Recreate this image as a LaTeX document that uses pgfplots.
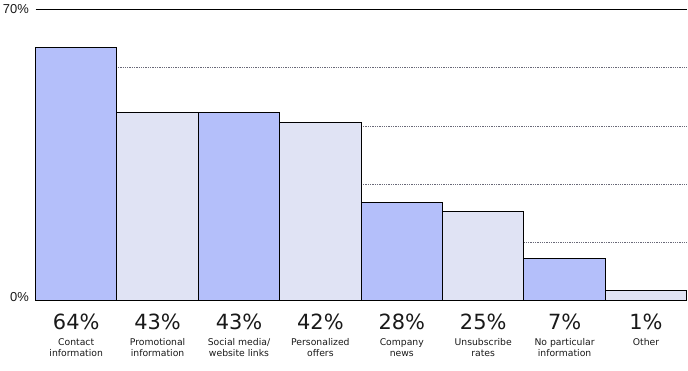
\documentclass[border=0pt]{standalone}
\usepackage{pgfplots}
\pgfplotsset{compat=1.18}
\usepackage{fontspec}
\setmainfont{DejaVu Sans}
\newfontfamily\ylabfont{Liberation Sans}
\definecolor{barblue}{RGB}{180,191,250}
\definecolor{barlight}{RGB}{224,227,244}
\definecolor{gridgray}{RGB}{105,105,120}
\definecolor{txt}{RGB}{25,25,25}
\newcommand{\lab}[2]{{\fontsize{21}{21}\selectfont #1}\\[3.4pt]#2}
\begin{document}
\begin{tikzpicture}
\useasboundingbox (0,0) rectangle (688bp,371bp);
\begin{axis}[
  at={(35.5bp,70.5bp)}, anchor=south west,
  scale only axis, width=651.2bp, height=291bp,
  xmin=0, xmax=8, ymin=0, ymax=70,
  clip=false,
  axis line style={draw=none},
  major tick length=0pt,
  xtick={0.5,1.5,2.5,3.5,4.5,5.5,6.5,7.5},
  xticklabels={
    {\lab{64\%}{Contact\\information}},
    {\lab{43\%}{Promotional\\information}},
    {\lab{43\%}{Social media/\\website links}},
    {\lab{42\%}{Personalized\\offers}},
    {\lab{28\%}{Company\\news}},
    {\lab{25\%}{Unsubscribe\\rates}},
    {\lab{7\%}{No particular\\information}},
    {\lab{1\%}{Other}}},
  xticklabel style={anchor=north, align=center, inner sep=0pt, yshift=-13.5pt,
    font=\fontsize{9.3}{12}\selectfont, text=txt},
  ytick={0,70},
  yticklabels={{\raisebox{-1.2pt}{0\%}},{\raisebox{-3.8pt}{70\%}}},
  yticklabel style={anchor=base east, inner sep=0pt, xshift=-6.5pt,
    font=\ylabfont\fontsize{13}{13}\selectfont, text=txt},
  ymajorgrids,
  major grid style={black, line width=0.9bp},
  extra y ticks={14,28,42,56},
  extra y tick labels={},
  extra y tick style={grid=major, major grid style={gridgray, dash pattern=on 1.3pt off 1pt, line width=0.8bp}},
]
\addplot[ybar, bar width=1, bar shift=0pt, fill=barblue, draw=black, line width=1.1bp]
  coordinates {(0.5,60.8) (2.5,45.2) (4.5,23.5) (6.5,10.2)};
\addplot[ybar, bar width=1, bar shift=0pt, fill=barlight, draw=black, line width=1.1bp]
  coordinates {(1.5,45.2) (3.5,42.9) (5.5,21.5) (7.5,2.4)};
\end{axis}
\end{tikzpicture}
\end{document}
